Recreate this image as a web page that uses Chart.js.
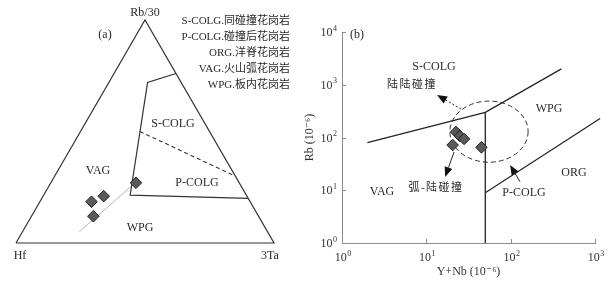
<!DOCTYPE html>
<html><head><meta charset="utf-8">
<script src="https://cdn.jsdelivr.net/npm/chart.js@4/dist/chart.umd.min.js"></script>
<style>
html,body{margin:0;padding:0;background:#fff;}
#wrap{position:relative;width:608px;height:281px;background:#fff;}
#ca{position:absolute;left:0;top:0;}
#cb{position:absolute;left:300px;top:0;}
</style></head><body>
<div id="wrap"><canvas id="ca" width="300" height="281"></canvas><canvas id="cb" width="308" height="281"></canvas></div>
<script>
// ---------- Panel (a): Hf – Rb/30 – 3Ta ternary; compositions [Rb/30, Hf, 3Ta] (%)
const ternaryLabels = ['Rb/30', 'Hf', '3Ta'];
const ternaryVertices = [[0,100,0],[0,0,100],[100,0,0],[0,100,0]];
const ternaryBoundary = [[76,0,24],[72,13,15],[21.5,45,33.5],[20,0,80]];
const ternaryDashed = [[50,27,23],[30,0,70]];
const ternaryTrend = [[5,73,22],[26.5,41,32.5]];
const ternarySamples = [[27,40,33],[18.5,61.5,20],[21,55.5,23.5],[12,64,24]];
const legendLines = ['S-COLG.同碰撞花岗岩','P-COLG.碰撞后花岗岩','ORG.洋脊花岗岩','VAG.火山弧花岗岩','WPG.板内花岗岩'];

// ---------- Panel (b): Rb vs Y+Nb (10^-6)
const xTicks = [1, 10, 100, 1000];
const xTickLabels = ['10⁰','10¹','10²','10³'];
const yTicks = [1, 10, 100, 1000, 10000];
const yTickLabels = ['10⁰','10¹','10²','10³','10⁴'];
const sampleYNb = [22.5, 25, 28, 20.5, 45];
const sampleRb  = [127, 107, 94, 72, 65];
const synVagX = [2, 50, 400];
const synVagY = [80, 300, 2000];
const vagWpgX = [50, 50];
const vagWpgY = [300, 1];
const wpgOrgX = [50, 1150];
const wpgOrgY = [9, 230];
const ellipseYNb = [19, 161];
const ellipseRb = [34, 490];
const arrowFromX = [25.8, 21.3, 129];
const arrowFromY = [347, 53, 14.5];
const arrowToX = [13.4, 16.7, 98.4];
const arrowToY = [640, 17.8, 30.1];
const arrowDotted = [true, false, false];

const SERIF = "'Liberation Serif','DejaVu Serif','Noto Sans CJK SC',serif";
Chart.defaults.font.family = SERIF;
Chart.defaults.color = '#333';

function tern(p){ const s=p[0]+p[1]+p[2]; const a=p[0]/s, c=p[2]/s; return {x:c+a/2, y:a*Math.sqrt(3)/2}; }
function xy(xs, ys){ return xs.map((v,i)=>({x:v, y:ys[i]})); }
function drawText(ctx, t){
  ctx.save();
  ctx.font = (t.size||12)+'px '+SERIF;
  ctx.fillStyle = '#2a2a2a';
  ctx.textAlign = t.align||'center';
  ctx.textBaseline = 'middle';
  if (t.ls) ctx.letterSpacing = t.ls;
  ctx.fillText(t.text, t.x, t.y);
  ctx.restore();
}
const SUP = {'⁰':'0','¹':'1','²':'2','³':'3','⁴':'4','⁵':'5','⁶':'6','⁷':'7','⁸':'8','⁹':'9','⁻':'-'};
// draws "10" + small raised exponent; anchor: 'center' or 'right'
function drawPow(ctx, label, x, y, anchor){
  let base='', exp='';
  for (const ch of label){ if (SUP[ch]!==undefined) exp+=SUP[ch]; else base+=ch; }
  ctx.save();
  ctx.fillStyle='#333'; ctx.textBaseline='middle'; ctx.textAlign='left';
  ctx.font='12px '+SERIF; const wb=ctx.measureText(base).width;
  ctx.font='8px '+SERIF; const we=ctx.measureText(exp).width;
  const total=wb+we+0.5;
  const x0 = anchor==='right' ? x-total : x-total/2;
  ctx.font='12px '+SERIF; ctx.fillText(base, x0, y);
  ctx.font='8px '+SERIF; ctx.fillText(exp, x0+wb+0.5, y-4.5);
  ctx.restore();
}

const aTexts = [
  {text: ternaryLabels[0], x:145, y:13},
  {text: '(a)', x:105, y:35},
  ...legendLines.map((s,i)=>({text:s, x:290, y:21+16*i, align:'right', size:11})),
  {text:'S-COLG', x:173, y:124},
  {text:'VAG', x:98, y:171},
  {text:'P-COLG', x:197, y:183},
  {text:'WPG', x:140, y:228},
  {text: ternaryLabels[1], x:20, y:256},
  {text: ternaryLabels[2], x:270, y:256}
];

new Chart(document.getElementById('ca'), {
  type: 'scatter',
  data: { datasets: [
    {data: ternarySamples.map(tern), pointStyle:'rectRot', pointRadius:5.8, backgroundColor:'#5a5a5a', borderColor:'#222', borderWidth:1, clip:false},
    {data: ternaryVertices.map(tern), showLine:true, borderColor:'#333', borderWidth:1.2, pointRadius:0, clip:false},
    {data: ternaryBoundary.map(tern), showLine:true, borderColor:'#333', borderWidth:1.2, pointRadius:0, clip:false},
    {data: ternaryDashed.map(tern), showLine:true, borderColor:'#333', borderWidth:1.1, borderDash:[4,3], pointRadius:0, clip:false},
    {data: ternaryTrend.map(tern), showLine:true, borderColor:'#b5b5b5', borderWidth:1, pointRadius:0, clip:false}
  ]},
  options: {
    responsive:false, animation:false,
    layout:{padding:{left:16, right:26, top:20, bottom:38}},
    scales:{
      x:{type:'linear', min:0, max:1, display:false},
      y:{type:'linear', min:0, max:Math.sqrt(3)/2, display:false}
    },
    plugins:{legend:{display:false}, tooltip:{enabled:false}}
  },
  plugins:[{id:'aText', afterDraw(c){ aTexts.forEach(t=>drawText(c.ctx, t)); }}]
});

const bTexts = [
  {text:'(b)', x:57, y:35},
  {text:'S-COLG', x:134, y:67},
  {text:'陆陆碰撞', x:112, y:85, size:11, ls:'1.5px'},
  {text:'WPG', x:249, y:109},
  {text:'ORG', x:274, y:173},
  {text:'VAG', x:82, y:192},
  {text:'弧-陆碰撞', x:136, y:188, size:11, ls:'1.5px'},
  {text:'P-COLG', x:224, y:193}
];

const axisCommon = {
  grid:{display:true, drawOnChartArea:false, drawTicks:false},
  border:{display:true, color:'#8c8c8c', width:1}
};

new Chart(document.getElementById('cb'), {
  type:'scatter',
  data:{ datasets:[
    {data: xy(sampleYNb, sampleRb), pointStyle:'rectRot', pointRadius:5.8, backgroundColor:'#5a5a5a', borderColor:'#222', borderWidth:1, clip:false},
    {data: xy(synVagX, synVagY), showLine:true, borderColor:'#222', borderWidth:1.2, pointRadius:0, clip:false},
    {data: xy(vagWpgX, vagWpgY), showLine:true, borderColor:'#222', borderWidth:1.3, pointRadius:0, clip:false},
    {data: xy(wpgOrgX, wpgOrgY), showLine:true, borderColor:'#222', borderWidth:1.2, pointRadius:0, clip:false}
  ]},
  options:{
    responsive:false, animation:false,
    layout:{padding:{left:0, right:13, top:32, bottom:0}},
    scales:{
      x:{type:'logarithmic', min:1, max:1000, position:'bottom', ...axisCommon,
        afterBuildTicks: ax => { ax.ticks = xTicks.map(v=>({value:v})); },
        afterFit: ax => { ax.height = 38; },
        ticks:{display:false},
        title:{display:true, text:'Y+Nb (10⁻⁶)', font:{size:12}, color:'#333', padding:{top:0, bottom:2}}
      },
      y:{type:'logarithmic', min:1, max:10000, position:'left', ...axisCommon,
        afterBuildTicks: ax => { ax.ticks = yTicks.map(v=>({value:v})); },
        afterFit: ax => { ax.width = 42; },
        ticks:{display:false},
        title:{display:true, text:'Rb (10⁻⁶)', font:{size:12}, color:'#333', padding:{top:3, bottom:0}}
      }
    },
    plugins:{legend:{display:false}, tooltip:{enabled:false}}
  },
  plugins:[{
    id:'bDeco',
    beforeDatasetsDraw(c){
      const ctx=c.ctx, xs=c.scales.x, ys=c.scales.y;
      const x1=xs.getPixelForValue(ellipseYNb[0]), x2=xs.getPixelForValue(ellipseYNb[1]);
      const y1=ys.getPixelForValue(ellipseRb[0]), y2=ys.getPixelForValue(ellipseRb[1]);
      ctx.save();
      ctx.strokeStyle='#333'; ctx.lineWidth=1; ctx.setLineDash([5,3]);
      ctx.beginPath();
      ctx.ellipse((x1+x2)/2,(y1+y2)/2,Math.abs(x2-x1)/2,Math.abs(y2-y1)/2,0,0,Math.PI*2);
      ctx.stroke();
      ctx.restore();
      arrowFromX.forEach((fx,i)=>{
        const ax=xs.getPixelForValue(fx), ay=ys.getPixelForValue(arrowFromY[i]);
        const bx=xs.getPixelForValue(arrowToX[i]), by=ys.getPixelForValue(arrowToY[i]);
        const ang=Math.atan2(by-ay,bx-ax), L=10, W=4;
        const baseX=bx-L*Math.cos(ang), baseY=by-L*Math.sin(ang);
        ctx.save();
        ctx.strokeStyle='#222'; ctx.fillStyle='#111'; ctx.lineWidth=1;
        if (arrowDotted[i]) ctx.setLineDash([2,2]);
        ctx.beginPath(); ctx.moveTo(ax,ay); ctx.lineTo(baseX,baseY); ctx.stroke();
        ctx.setLineDash([]);
        ctx.beginPath();
        ctx.moveTo(bx,by);
        ctx.lineTo(baseX+W*Math.sin(ang), baseY-W*Math.cos(ang));
        ctx.lineTo(baseX-W*Math.sin(ang), baseY+W*Math.cos(ang));
        ctx.closePath(); ctx.fill();
        ctx.restore();
      });
    },
    afterDraw(c){
      const ctx=c.ctx, xs=c.scales.x, ys=c.scales.y, ca=c.chartArea;
      ctx.save();
      ctx.strokeStyle='#8c8c8c'; ctx.lineWidth=1;
      xTicks.forEach(v=>{ const p=Math.round(xs.getPixelForValue(v))+0.5; ctx.beginPath(); ctx.moveTo(p,ca.bottom); ctx.lineTo(p,ca.bottom-4); ctx.stroke(); });
      yTicks.forEach(v=>{ const p=Math.round(ys.getPixelForValue(v))+0.5; ctx.beginPath(); ctx.moveTo(ca.left,p); ctx.lineTo(ca.left+4,p); ctx.stroke(); });
      ctx.restore();
      xTicks.forEach((v,i)=>drawPow(ctx, xTickLabels[i], xs.getPixelForValue(v)+1, ca.bottom+15, 'center'));
      yTicks.forEach((v,i)=>drawPow(ctx, yTickLabels[i], ca.left-5, ys.getPixelForValue(v)+1, 'right'));
      bTexts.forEach(t=>drawText(ctx,t));
    }
  }]
});
</script>
</body></html>
